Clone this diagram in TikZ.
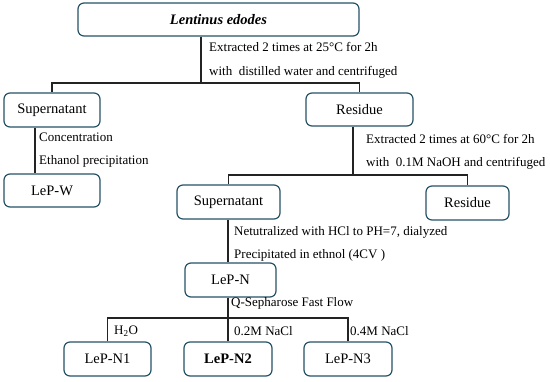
\documentclass[tikz,border=0pt]{standalone}
\usepackage{fontspec}
\setmainfont{Liberation Serif}
\definecolor{boxline}{RGB}{38,82,102}
\definecolor{conn}{RGB}{35,35,35}
\tikzset{
  box/.style={draw=boxline, line width=1.2pt, rounded corners=6pt, inner sep=0pt,
    font=\fontsize{14.5}{16}\selectfont, text=black},
  lbl/.style={anchor=west, inner sep=0pt, font=\fontsize{13}{15}\selectfont, text=black},
  wire/.style={draw=conn, line width=1.1pt}
}
\begin{document}
\begin{tikzpicture}[x=1pt,y=-1pt]
\useasboundingbox (0,0) rectangle (550,382);
% boxes
\node[box, minimum width=281pt, minimum height=33pt] (top) at (218.5,19.5) {\textbf{\textit{Lentinus edodes}}};
\node[box, minimum width=96pt, minimum height=34pt] (sup1) at (52,110) {Supernatant};
\node[box, minimum width=107pt, minimum height=33pt] (res1) at (359.5,109.5) {Residue};
\node[box, minimum width=96pt, minimum height=33pt] (lepw) at (52,190.5) {LeP-W};
\node[box, minimum width=103pt, minimum height=34pt] (sup2) at (228.5,202) {Supernatant};
\node[box, minimum width=83pt, minimum height=34pt] (res2) at (467.5,203) {Residue};
\node[box, minimum width=91pt, minimum height=34pt] (lepn) at (230.5,280) {LeP-N};
\node[box, minimum width=87pt, minimum height=34pt] (n1) at (107.5,359) {LeP-N1};
\node[box, minimum width=88pt, minimum height=34pt] (n2) at (228,359) {\textbf{LeP-N2}};
\node[box, minimum width=88pt, minimum height=34pt] (n3) at (348,359) {LeP-N3};
% junctions
\coordinate (j1) at (201,83);
\coordinate (x35) at (35,0);
\coordinate (j2) at (353,175);
\coordinate (j3) at (228,318);
% connectors
\draw[wire] (top.south -| j1) -- (j1);
\draw[wire] (sup1.north) |- (j1) -| (res1.north);
\draw[wire] (sup1.south -| x35) -- (lepw.north -| x35);
\draw[wire] (res1.south -| j2) -- (j2);
\draw[wire] (sup2.north) |- (j2) -| (res2.north);
\draw[wire] (sup2.south -| j3) -- (lepn.north -| j3);
\draw[wire] (lepn.south -| j3) -- (j3);
\draw[wire] (n1.north) |- (j3) -| (n3.north);
\draw[wire] (j3) -- (n2.north);
% labels
\node[lbl] (l1) at (209,47) {Extracted 2 times at 25°C for 2h};
\node[lbl] (l2) at (209,72) {with\ \ distilled water and centrifuged};
\node[lbl] (l3) at (39,137) {Concentration};
\node[lbl] (l4) at (39,161) {Ethanol precipitation};
\node[lbl] (l5) at (366,139) {Extracted 2 times at 60°C for 2h};
\node[lbl] (l6) at (366,163) {with\ \ 0.1M NaOH and centrifuged};
\node[lbl] (l7) at (234,232) {Netutralized with HCl to PH=7, dialyzed};
\node[lbl] (l8) at (234,255) {Precipitated in ethnol (4CV )};
\node[lbl] (l9) at (231,303) {Q-Sepharose Fast Flow};
\node[lbl] (l10) at (114,331) {H\textsubscript{2}O};
\node[lbl] (l11) at (234,331) {0.2M NaCl};
\node[lbl] (l12) at (350,331) {0.4M NaCl};
\end{tikzpicture}
\end{document}
